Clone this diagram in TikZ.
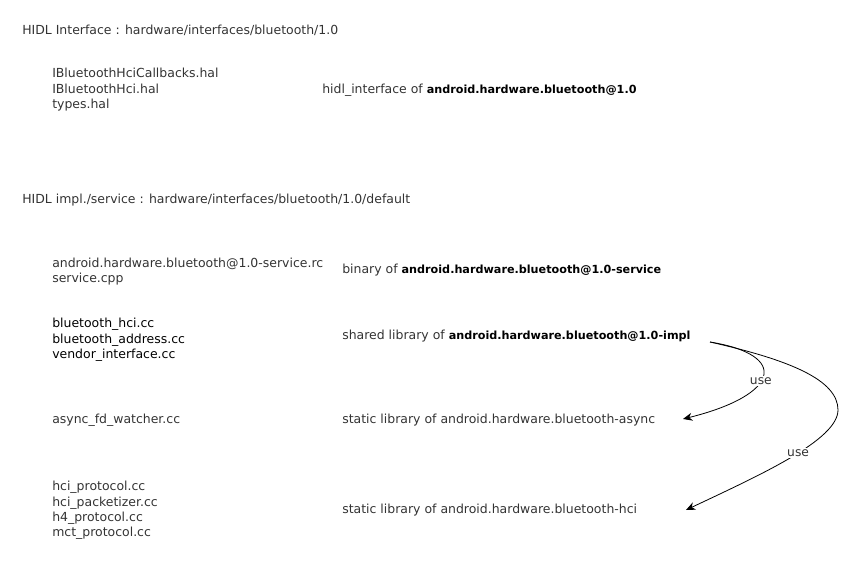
\documentclass[tikz,border=0pt]{standalone}
\usepackage{fontspec}
\setmainfont{DejaVu Sans}
\usetikzlibrary{arrows.meta}
\definecolor{txt}{HTML}{333333}
\newcommand{\bd}[1]{{\fontsize{8.4}{11.6}\selectfont\bfseries\color{black}#1}}
\tikzset{
  lbl/.style={anchor=west, inner sep=0pt, align=left, text=txt, font=\fontsize{9.35}{11.6}\selectfont},
  dark/.style={lbl, text=black},
  usearrow/.style={draw=black, line width=0.6pt, -{Stealth[length=7pt,width=6pt]}},
  uselbl/.style={fill=white, inner sep=1pt, text=txt, font=\fontsize{9.2}{10}\selectfont}
}
\begin{document}
\begin{tikzpicture}[x=0.75pt,y=-0.75pt]
\useasboundingbox (0,0) rectangle (861,563);
\node[lbl] (h1) at (22,30) {HIDL Interface : hardware/interfaces/bluetooth/1.0};
\node[lbl] (hal) at (52,90) {IBluetoothHciCallbacks.hal\\IBluetoothHci.hal\\types.hal};
\node[lbl] (hidl) at (322,90) {hidl\_interface of \bd{android.hardware.bluetooth@1.0}};
\node[lbl] (h2) at (22,200) {HIDL impl./service : hardware/interfaces/bluetooth/1.0/default};
\node[lbl] (svc) at (52,271.5) {android.hardware.bluetooth@1.0-service.rc\\service.cpp};
\node[lbl] (bin) at (342,270) {binary of \bd{android.hardware.bluetooth@1.0-service}};
\node[dark] (impl) at (52,340) {bluetooth\_hci.cc\\bluetooth\_address.cc\\vendor\_interface.cc};
\node[lbl] (shared) at (342,336) {shared library of \bd{android.hardware.bluetooth@1.0-impl}};
\node[lbl] (async) at (52,420) {async\_fd\_watcher.cc};
\node[lbl] (asynclib) at (342,420) {static library of android.hardware.bluetooth-async};
\node[lbl] (hci) at (52,510.5) {hci\_protocol.cc\\hci\_packetizer.cc\\h4\_protocol.cc\\mct\_protocol.cc};
\node[lbl] (hcilib) at (342,510) {static library of android.hardware.bluetooth-hci};
\coordinate (s) at (710,342);
\coordinate (t1) at (683,419);
\coordinate (t2) at (686,510);
\coordinate (m2) at (838,410);
\draw[usearrow] (s) .. controls (790,355) and (780,395) .. node[uselbl, pos=0.55] {use} (t1);
\draw[usearrow] (s) .. controls (790,360) and (838,380) .. (m2)
  .. controls (838,440) and (760,475) .. node[uselbl, pos=0.45] {use} (t2);
\end{tikzpicture}
\end{document}
